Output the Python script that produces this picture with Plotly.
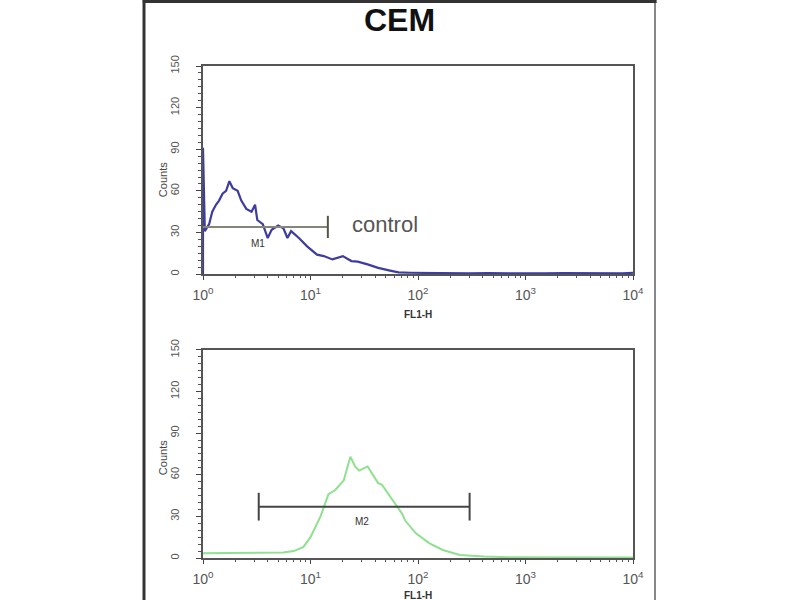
import plotly.graph_objects as go

# ---- data ----
control_x = [1.0, 1.0, 1.04, 1.14, 1.22, 1.32, 1.41, 1.52, 1.64, 1.76, 1.89, 2.1, 2.27, 2.53,
             2.83, 3.05, 3.2, 3.6, 4.0, 4.35, 5.0, 5.6, 6.1, 6.6, 7.8, 9.3, 11.5, 13.3, 16.0,
             20.0, 24.0, 27.5, 34.0, 42.6, 55.0, 66.0, 85.0, 110, 150, 200, 300, 450, 700,
             1000, 1500, 2200, 3500, 5500, 8000, 10000]
control_y = [0, 91, 31, 36, 45, 50, 53, 58, 60, 67, 62, 60, 53, 47,
             45, 50, 39, 36, 26, 32, 35, 33, 26, 31, 26, 20, 14, 13, 10.6,
             13, 9.4, 9, 7, 4.5, 2.5, 1.2, 1.0, 0.8, 0.6, 0.8, 0.5, 0.7, 0.5,
             0.6, 0.5, 0.7, 0.5, 0.6, 0.5, 1.0]

sample_x = [1.0, 1.5, 2.7, 4.0, 5.6, 7.0, 8.6, 10.0, 12.4, 14.7, 17.0, 20.4, 23.5, 26.0, 28.3,
            34.0, 38.0, 42.6, 46.0, 53.0, 62.0, 71.0, 76.0, 95.0, 128, 170, 245, 410,
            700, 1200, 2000, 4000, 10000]
sample_y = [3.4, 3.5, 4.0, 3.8, 4.0, 5.0, 8.0, 15, 30, 46, 49, 56, 73, 66, 63,
            66, 60, 54, 53, 46, 38, 32, 27, 18, 10.6, 5.8, 2.2, 1.0,
            0.6, 0.5, 0.5, 0.4, 0.4]

m1_range = [1.0, 14.5]
m1_level = 34
m2_range = [3.3, 302]
m2_level = 37
cap_half = 8

x_tickvals = [1, 10, 100, 1000, 10000]
x_ticktext = ["10<sup>0</sup>", "10<sup>1</sup>", "10<sup>2</sup>", "10<sup>3</sup>", "10<sup>4</sup>"]
y_tickvals = [0, 30, 60, 90, 120, 150]
y_ticktext = ["0", "30", "60", "90", "120", "150"]

FONT = "Liberation Sans, Arial, sans-serif"

fig = go.Figure()

fig.add_trace(go.Scatter(x=control_x, y=control_y, mode="lines",
                         line=dict(color="#3d3da0", width=2.2), xaxis="x", yaxis="y",
                         showlegend=False, hoverinfo="skip"))
# M1 marker bar
fig.add_trace(go.Scatter(x=m1_range, y=[m1_level, m1_level], mode="lines",
                         line=dict(color="#85857a", width=2), xaxis="x", yaxis="y",
                         showlegend=False, hoverinfo="skip"))
fig.add_trace(go.Scatter(x=[m1_range[1], m1_range[1]], y=[m1_level - cap_half, m1_level + cap_half],
                         mode="lines", line=dict(color="#55554a", width=2), xaxis="x", yaxis="y",
                         showlegend=False, hoverinfo="skip"))

fig.add_trace(go.Scatter(x=sample_x, y=sample_y, mode="lines",
                         line=dict(color="#8fe08f", width=2), xaxis="x2", yaxis="y2",
                         showlegend=False, hoverinfo="skip"))
# M2 marker bar
fig.add_trace(go.Scatter(x=m2_range, y=[m2_level, m2_level], mode="lines",
                         line=dict(color="#444444", width=2), xaxis="x2", yaxis="y2",
                         showlegend=False, hoverinfo="skip"))
for xv in m2_range:
    fig.add_trace(go.Scatter(x=[xv, xv], y=[m2_level - 10, m2_level + 10], mode="lines",
                             line=dict(color="#444444", width=2), xaxis="x2", yaxis="y2",
                             showlegend=False, hoverinfo="skip"))

xaxis_common = dict(type="log", range=[0, 4], tickmode="array", tickvals=x_tickvals,
                    ticktext=x_ticktext, showgrid=False, zeroline=False,
                    showline=True, linecolor="#555555", linewidth=2, mirror=True,
                    ticks="outside", ticklen=4, tickcolor="#444",
                    minor=dict(ticks="outside", ticklen=2, dtick="D1", tickcolor="#555", showgrid=False),
                    tickfont=dict(family=FONT, size=14, color="#555"), ticklabelstandoff=3)
yaxis_common = dict(range=[0, 150], tickmode="array", tickvals=y_tickvals, ticktext=y_ticktext,
                    showgrid=False, zeroline=False, showline=True, linecolor="#555555",
                    linewidth=2, mirror=True, ticks="outside", ticklen=5, tickcolor="#444",
                    minor=dict(ticks="outside", ticklen=3, dtick=5, tickcolor="#555", showgrid=False),
                    tickangle=-90, tickfont=dict(family=FONT, size=11, color="#555"),
                    ticklabelstandoff=13)


def note(text, x, y, size, color, angle=0, xanchor="center"):
    return dict(text=text, x=x, y=y, xref="paper", yref="paper", showarrow=False,
                xanchor=xanchor, yanchor="middle", textangle=angle,
                font=dict(family=FONT, size=size, color=color))


fig.update_layout(
    width=800, height=600,
    margin=dict(l=203, r=167, t=66, b=42, autoexpand=False),
    paper_bgcolor="white", plot_bgcolor="white",
    xaxis=dict(domain=[0, 1], anchor="y", **xaxis_common),
    yaxis=dict(domain=[0.577, 1], anchor="x", **yaxis_common),
    xaxis2=dict(domain=[0, 1], anchor="y2", **xaxis_common),
    yaxis2=dict(domain=[0, 0.423], anchor="x2", **yaxis_common),
    annotations=[
        note("<b>CEM</b>", 0.458, 1.0935, 32, "#111"),
        note("control", 0.342, 0.677, 22, "#555", xanchor="left"),
        note("M1", 0.128, 0.640, 10, "#333"),
        note("M2", 0.369, 0.074, 10, "#333"),
        note("<b>FL1-H</b>", 0.5, 0.494, 10, "#333"),
        note("<b>FL1-H</b>", 0.5, -0.076, 10, "#333"),
        note("Counts", -0.093, 0.768, 11, "#444", angle=-90),
        note("Counts", -0.093, 0.203, 11, "#444", angle=-90),
    ],
    shapes=[
        dict(type="line", xref="paper", yref="paper", x0=-0.1372, x1=-0.1372, y0=-0.1, y1=1.14,
             line=dict(color="#333", width=3)),
        dict(type="line", xref="paper", yref="paper", x0=1.0512, x1=1.0512, y0=-0.1, y1=1.14,
             line=dict(color="#888", width=2)),
        dict(type="line", xref="paper", yref="paper", x0=-0.14, x1=1.055, y0=1.131, y1=1.131,
             line=dict(color="#333", width=3)),
    ],
)

fig.write_html("out.html", config={"displayModeBar": False},
               post_script="document.body.style.margin='0px';")
